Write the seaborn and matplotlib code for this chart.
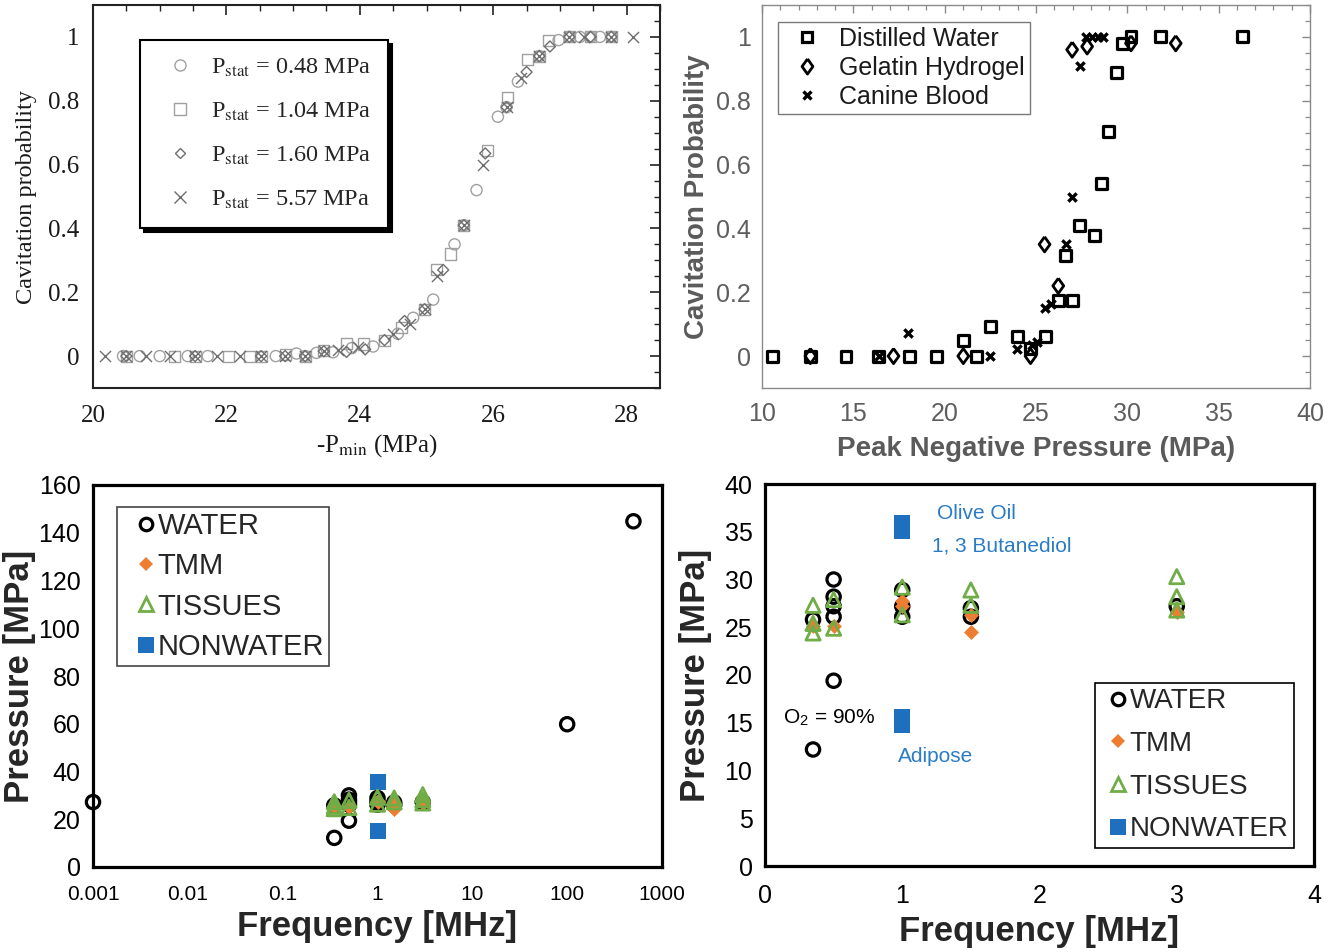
import numpy as np
import matplotlib
matplotlib.use("Agg")
import matplotlib.pyplot as plt
from matplotlib.lines import Line2D
from matplotlib.ticker import MultipleLocator, FixedLocator, FuncFormatter, NullLocator
import seaborn as sns

# ---------------- (a) cavitation probability vs -Pmin at four static pressures
pstat_values = ["0.48", "1.04", "1.60", "5.57"]

p048_pmin = [20.45, 20.70, 21.00, 21.42, 21.72, 22.74, 23.05, 23.18, 23.35, 23.60, 23.88,
             24.20, 24.57, 24.80, 25.10, 25.42, 25.56, 25.75, 26.07, 26.20, 26.37, 26.69,
             26.98, 27.14, 27.30, 27.46, 27.60, 27.77]
p048_prob = [0, 0, 0, 0, 0, 0, 0.008, 0.0, 0.010, 0.012, 0.025,
             0.030, 0.070, 0.120, 0.177, 0.350, 0.410, 0.520, 0.750, 0.780, 0.860, 0.940,
             0.990, 1.0, 1.0, 1.0, 1.0, 1.0]

p104_pmin = [20.50, 21.22, 21.53, 22.03, 22.34, 22.52, 22.88, 23.18, 23.46, 23.80, 24.05,
             24.37, 24.62, 24.97, 25.15, 25.36, 25.56, 25.92, 26.22, 26.52, 26.69, 26.83,
             27.14, 27.46, 27.77]
p104_prob = [0, 0, 0, 0, 0, 0, 0.005, 0, 0.017, 0.040, 0.038,
             0.050, 0.090, 0.147, 0.270, 0.320, 0.410, 0.645, 0.810, 0.930, 0.940, 0.990,
             1.0, 1.0, 1.0]

p160_pmin = [20.50, 21.53, 22.52, 22.88, 23.18, 23.46, 23.80, 24.08, 24.37, 24.67, 24.97,
             25.25, 25.56, 25.88, 26.20, 26.50, 26.69, 26.85, 27.14, 27.46, 27.77]
p160_prob = [0, 0, 0, 0, 0, 0.015, 0.013, 0.021, 0.050, 0.110, 0.147,
             0.270, 0.410, 0.635, 0.780, 0.890, 0.940, 0.970, 1.0, 1.0, 1.0]

p557_pmin = [20.18, 20.50, 20.79, 21.15, 21.53, 21.86, 22.20, 22.52, 22.88, 23.18, 23.46,
             23.68, 23.98, 24.50, 24.75, 24.97, 25.15, 25.56, 25.85, 26.20, 26.42, 26.69,
             27.14, 27.36, 27.77, 28.10]
p557_prob = [0, 0, 0, 0, 0, 0, 0, 0, 0, 0, 0.017,
             0.020, 0.030, 0.070, 0.100, 0.147, 0.250, 0.410, 0.600, 0.780, 0.870, 0.940,
             1.0, 1.0, 1.0, 1.0]

# ---------------- (b) cavitation probability vs peak negative pressure, three media
b_media = ["Distilled Water", "Gelatin Hydrogel", "Canine Blood"]
water_pnp = [10.55, 12.65, 14.60, 16.40, 18.06, 19.53, 21.02, 21.73, 22.50, 23.98, 24.70,
             25.50, 26.22, 26.63, 26.98, 27.39, 28.20, 28.57, 28.98, 29.39, 29.76, 30.20,
             31.84, 36.33]
water_prob = [0, 0, 0, 0, 0, 0, 0.050, 0, 0.092, 0.061, 0.024,
              0.061, 0.174, 0.315, 0.174, 0.408, 0.377, 0.540, 0.703, 0.888, 0.979, 1.0,
              1.0, 1.0]
gel_pnp = [12.65, 17.20, 21.02, 24.70, 25.47, 26.22, 26.98, 27.80, 30.20, 32.65]
gel_prob = [0, 0, 0, 0, 0.350, 0.220, 0.960, 0.970, 0.980, 0.980]
blood_pnp = [16.40, 18.02, 22.50, 23.98, 24.76, 25.04, 25.47, 25.82, 26.63, 26.98, 27.39,
             27.76, 28.06, 28.37, 28.67]
blood_prob = [0, 0.071, 0, 0.021, 0.035, 0.045, 0.150, 0.163, 0.350, 0.500, 0.909,
              1.0, 1.0, 1.0, 1.0]

# ---------------- (c, d) cavitation threshold pressure vs frequency
groups = ["WATER", "TMM", "TISSUES", "NONWATER"]
water_f = [0.001, 0.35, 0.35, 0.5, 0.5, 0.5, 0.5, 0.5, 1.0, 1.0, 1.0, 1.5, 1.5, 3.0, 100, 500]
water_p = [27.2, 25.8, 12.2, 30.0, 28.2, 27.2, 26.1, 19.4, 28.9, 27.2, 26.1, 27.0, 26.1, 27.2,
           59.8, 144.8]
tmm_f = [0.35, 0.5, 1.0, 1.0, 1.5, 1.5, 3.0]
tmm_p = [25.1, 25.1, 27.7, 27.2, 24.5, 26.3, 26.6]
tissue_f = [0.35, 0.35, 0.35, 0.5, 0.5, 1.0, 1.0, 1.5, 1.5, 3.0, 3.0, 3.0]
tissue_p = [27.3, 25.4, 24.4, 27.9, 24.9, 29.2, 26.3, 28.9, 27.3, 30.3, 28.2, 26.8]
nonwater_f = [1.0, 1.0]
nonwater_p = [35.5, 15.2]

notes_text = ["Olive Oil", "1, 3 Butanediol", "Adipose"]
notes_f = [1.253, 1.217, 0.969]
notes_p = [36.96, 33.5, 11.5]
o2_text = r"O$_{\mathregular{2}}$ = 90%"
o2_f, o2_p = 0.131, 15.5

# ---------------------------------------------------------------- style
sns.set_style("white")
plt.rcParams["font.family"] = ["Liberation Sans", "DejaVu Sans"]
plt.rcParams["mathtext.fontset"] = "stix"

W, H = 1340, 952
fig = plt.figure(figsize=(W / 100, H / 100), dpi=100)


def panel(left, top, right, bottom):
    return fig.add_axes([left / W, 1 - bottom / H, (right - left) / W, (bottom - top) / H])


fmt_g = FuncFormatter(lambda v, _: "%g" % v)
SERIF = "Liberation Serif"
ORANGE, GREEN, BLUE = "#ed7d31", "#70ad47", "#1f6fbf"
tall_diamond = [(0, 1), (0.72, 0), (0, -1), (-0.72, 0), (0, 1)]
tall_rect = [(-0.7, -1), (0.7, -1), (0.7, 1), (-0.7, 1), (-0.7, -1)]

# ================================================================ panel (a)
axA = panel(93, 5, 660, 388)
a_series = [
    (p048_pmin, p048_prob, "o", "#a0a0a0", 8.0),
    (p104_pmin, p104_prob, "s", "#a0a0a0", 8.0),
    (p160_pmin, p160_prob, "D", "#6e6e6e", 5.6),
    (p557_pmin, p557_prob, "x", "#6e6e6e", 8.0),
]
for xs, ys, mk, col, ms in a_series:
    if mk == "x":
        sns.scatterplot(x=xs, y=ys, marker="x", color=col, s=ms ** 2, linewidth=1.0, ax=axA)
    else:
        sns.scatterplot(x=xs, y=ys, marker=mk, facecolor="none", edgecolor=col,
                        s=ms ** 2, linewidth=1.0, ax=axA)

axA.set_xlim(20, 28.5)
axA.set_ylim(-0.1, 1.1)
axA.xaxis.set_major_locator(MultipleLocator(2))
axA.xaxis.set_minor_locator(MultipleLocator(0.5))
axA.yaxis.set_major_locator(FixedLocator([0, 0.2, 0.4, 0.6, 0.8, 1.0]))
axA.yaxis.set_minor_locator(MultipleLocator(0.05))
axA.yaxis.set_major_formatter(fmt_g)
axA.tick_params(which="both", direction="in", top=True, right=True, color="#222222",
                labelfontfamily=SERIF, labelsize=18, labelcolor="#1a1a1a")
axA.tick_params(which="major", length=7, width=1.2)
axA.tick_params(which="minor", length=4, width=1.0)
axA.tick_params(axis="y", pad=10)
axA.tick_params(axis="x", pad=12)
for sp in axA.spines.values():
    sp.set_linewidth(1.5)
    sp.set_color("#222222")
axA.set_xlabel(r"-P$_{\mathrm{min}}$ (MPa)", fontfamily=SERIF, fontsize=18, color="#1a1a1a")
axA.set_ylabel("Cavitation probability", fontfamily=SERIF, fontsize=17.5, color="#1a1a1a")
axA.xaxis.set_label_coords(0.5, -0.115)
axA.yaxis.set_label_coords(-0.099, 0.5)

a_handles = [Line2D([], [], ls="none", marker=mk, ms=ms, mfc="none", mec=col, mew=1.0,
                    color=col) for _, _, mk, col, ms in a_series]
a_labels = [r"P$_{\mathrm{stat}}$ = %s MPa" % v for v in pstat_values]
legA = axA.legend(a_handles, a_labels, loc="upper left", bbox_to_anchor=(0.083, 0.909),
                  borderaxespad=0, fancybox=False, framealpha=1,
                  shadow={"color": "black", "alpha": 1, "ox": 3, "oy": -3},
                  prop={"family": SERIF, "size": 17.5}, handlelength=1.9, handletextpad=0.33,
                  labelspacing=0.9, borderpad=0.68)
legA.get_frame().set_edgecolor("black")
legA.get_frame().set_linewidth(1.5)

# ================================================================ panel (b)
axB = panel(762, 5, 1310, 388)
sns.scatterplot(x=water_pnp, y=water_prob, marker="s", facecolor="none", edgecolor="black",
                s=62, linewidth=2.3, ax=axB)
sns.scatterplot(x=gel_pnp, y=gel_prob, marker=tall_diamond, facecolor="none",
                edgecolor="black", s=118, linewidth=2.0, ax=axB)
sns.scatterplot(x=blood_pnp, y=blood_prob, marker="x", color="black", s=36, linewidth=2.4,
                ax=axB)
axB.set_xlim(10, 40)
axB.set_ylim(-0.1, 1.1)
axB.xaxis.set_major_locator(MultipleLocator(5))
axB.xaxis.set_minor_locator(MultipleLocator(1))
axB.yaxis.set_major_locator(FixedLocator([0, 0.2, 0.4, 0.6, 0.8, 1.0]))
axB.yaxis.set_minor_locator(MultipleLocator(0.05))
axB.yaxis.set_major_formatter(fmt_g)
axB.tick_params(which="both", direction="in", top=True, right=True, color="#8a8a8a",
                labelsize=18, labelcolor="#5e5e5e")
axB.tick_params(which="major", length=6, width=1.0)
axB.tick_params(which="minor", length=3.5, width=0.9)
axB.tick_params(axis="y", pad=8)
axB.tick_params(axis="x", pad=10)
for sp in axB.spines.values():
    sp.set_linewidth(1.0)
    sp.set_color("#8a8a8a")
axB.set_xlabel("Peak Negative Pressure (MPa)", fontsize=20, fontweight="bold", color="#5a5a5a")
axB.set_ylabel("Cavitation Probability", fontsize=20, fontweight="bold", color="#5a5a5a")
axB.xaxis.set_label_coords(0.5, -0.125)
axB.yaxis.set_label_coords(-0.095, 0.5)

b_handles = [
    Line2D([], [], ls="none", marker="s", ms=7.9, mfc="none", mec="black", mew=2.3),
    Line2D([], [], ls="none", marker=tall_diamond, ms=10.9, mfc="none", mec="black", mew=2.0),
    Line2D([], [], ls="none", marker="x", ms=6, mec="black", mew=2.4),
]
legB = axB.legend(b_handles, b_media, loc="upper left", bbox_to_anchor=(0.029, 0.956),
                  borderaxespad=0, fancybox=False, framealpha=1, fontsize=18,
                  labelcolor="#1a1a1a", handlelength=1.92, handletextpad=0.32,
                  labelspacing=0.2, borderpad=0.2)
legB.get_frame().set_edgecolor("#7a7a7a")
legB.get_frame().set_linewidth(1.0)


# ================================================================ panels (c) and (d)
def threshold_points(ax, nonwater_marker, nonwater_size, clip, fmin, fmax):
    wf, wp = np.asarray(water_f), np.asarray(water_p)
    keep = (wf >= fmin) & (wf <= fmax)
    sns.scatterplot(x=wf[keep], y=wp[keep], marker="o", facecolor="none", edgecolor="black",
                    s=92, linewidth=2.3, ax=ax, clip_on=clip, zorder=3)
    sns.scatterplot(x=tmm_f, y=tmm_p, marker="D", color=ORANGE, edgecolor=ORANGE, s=58,
                    linewidth=0, ax=ax, zorder=4)
    sns.scatterplot(x=tissue_f, y=tissue_p, marker="^", facecolor="none", edgecolor=GREEN,
                    s=105, linewidth=2.0, ax=ax, zorder=5)
    sns.scatterplot(x=nonwater_f, y=nonwater_p, marker=nonwater_marker, color=BLUE,
                    edgecolor=BLUE, s=nonwater_size, linewidth=0, ax=ax, zorder=3)


def group_legend(ax, **kw):
    handles = [
        Line2D([], [], ls="none", marker="o", ms=9.0, mfc="none", mec="black", mew=2.3),
        Line2D([], [], ls="none", marker="D", ms=7.0, mfc=ORANGE, mec=ORANGE, mew=0),
        Line2D([], [], ls="none", marker="^", ms=9.5, mfc="none", mec=GREEN, mew=2.0),
        Line2D([], [], ls="none", marker="s", ms=11.0, mfc=BLUE, mec=BLUE, mew=0),
    ]
    leg = ax.legend(handles, groups, borderaxespad=0, fancybox=False, framealpha=1, **kw)
    return leg


def frame_axes(ax):
    for sp in ax.spines.values():
        sp.set_linewidth(2.3)
        sp.set_color("black")
    ax.tick_params(which="both", length=0, labelsize=18, labelcolor="black")
    ax.tick_params(axis="y", pad=9)
    ax.tick_params(axis="x", pad=13)


# ---- (c) log frequency axis
axC = panel(93, 485, 662, 867)
threshold_points(axC, "s", 135, False, 0.0005, 2000)
axC.set_xscale("log")
axC.set_xlim(0.001, 1000)
axC.set_ylim(0, 160)
axC.xaxis.set_major_locator(FixedLocator([0.001, 0.01, 0.1, 1, 10, 100, 1000]))
axC.xaxis.set_minor_locator(NullLocator())
axC.xaxis.set_major_formatter(fmt_g)
axC.yaxis.set_major_locator(MultipleLocator(20))
frame_axes(axC)
axC.tick_params(axis="x", labelsize=15)
axC.set_xlabel("Frequency [MHz]", fontsize=25, fontweight="bold")
axC.set_ylabel("Pressure [MPa]", fontsize=25, fontweight="bold")
axC.xaxis.set_label_coords(0.5, -0.113)
axC.yaxis.set_label_coords(-0.1, 0.5)
legC = group_legend(axC, loc="upper left", bbox_to_anchor=(0.042, 0.942), fontsize=21,
                    borderpad=0.17, labelspacing=0.42, handlelength=1.64, handletextpad=-0.41)
legC.get_frame().set_edgecolor("#444444")
legC.get_frame().set_linewidth(1.2)

# ---- (d) linear frequency axis, 0-4 MHz
axD = panel(765, 484, 1314, 866)
threshold_points(axD, tall_rect, 300, True, 0.1, 4)
axD.set_xlim(0, 4)
axD.set_ylim(0, 40)
axD.xaxis.set_major_locator(MultipleLocator(1))
axD.yaxis.set_major_locator(MultipleLocator(5))
frame_axes(axD)
axD.set_xlabel("Frequency [MHz]", fontsize=25, fontweight="bold")
axD.set_ylabel("Pressure [MPa]", fontsize=25, fontweight="bold")
axD.xaxis.set_label_coords(0.5, -0.127)
axD.yaxis.set_label_coords(-0.097, 0.5)
for txt, fx, py in zip(notes_text, notes_f, notes_p):
    axD.text(fx, py, txt, color="#2a7cc6", fontsize=15, ha="left", va="center")
axD.text(o2_f, o2_p, o2_text, color="black", fontsize=15, ha="left", va="center")
legD = group_legend(axD, loc="lower right", bbox_to_anchor=(0.9636, 0.047), fontsize=20,
                    borderpad=0.2, labelspacing=0.6, handlelength=1.25, handletextpad=-0.19)
legD.get_frame().set_edgecolor("black")
legD.get_frame().set_linewidth(1.2)

fig.savefig("out.png", dpi=100, facecolor="white")
